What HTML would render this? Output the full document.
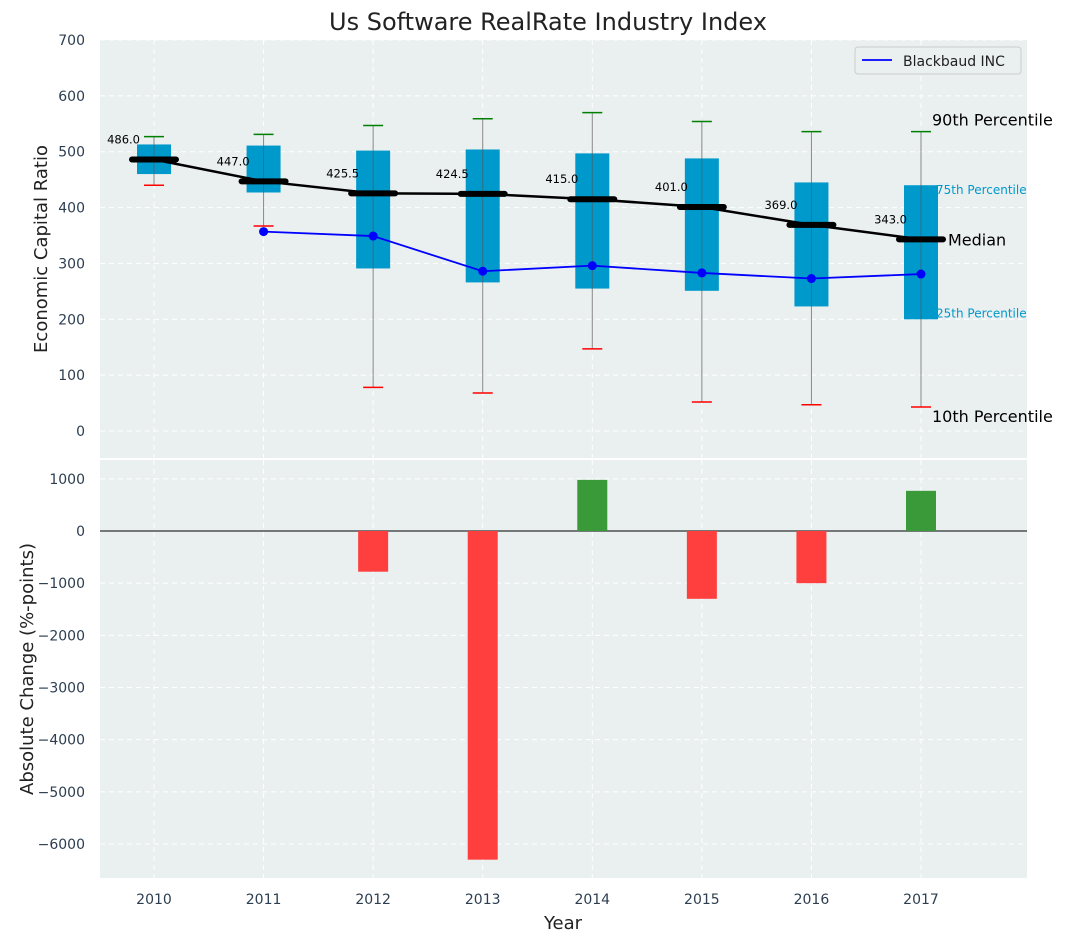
<!DOCTYPE html>
<html><head><meta charset="utf-8"><style>
body{margin:0;background:#fff;}
text{font-family:"DejaVu Sans","Liberation Sans",sans-serif;}
</style></head><body>
<svg id="c" width="1067" height="942" xmlns="http://www.w3.org/2000/svg">
<rect x="100" y="40" width="927" height="418" fill="#eaeff0"/>
<rect x="100" y="460" width="927" height="418" fill="#eaeff0"/>
<text x="548" y="30" font-size="24" text-anchor="middle" fill="#222">Us Software RealRate Industry Index</text>
<g id="g"></g>
</svg>
<script>
const years=[2010,2011,2012,2013,2014,2015,2016,2017];
const p10=[440,367,78,68,147,52,47,43];
const p25=[460,427,291,266,255,251,223,200];
const median=[486,447,425.5,424.5,415,401,369,343];
const p75=[513,511,502,504,497,488,445,440];
const p90=[527,531,547,559,570,554,536,536];
const company=[null,357,349,286,296,283,273,281];
const change=[null,null,-780,-6300,980,-1300,-1000,770];
const topTicks=[0,100,200,300,400,500,600,700];
const botTicks=[1000,0,-1000,-2000,-3000,-4000,-5000,-6000];

const NS="http://www.w3.org/2000/svg";
const g=document.getElementById('g');
function el(t,a,txt){const e=document.createElementNS(NS,t);for(const k in a)e.setAttribute(k,a[k]);if(txt!==undefined)e.textContent=txt;g.appendChild(e);return e;}
const X=i=>154+i*(921-154)/7;
const Y=v=>431-v*(431-40)/700;
const Y2=v=>531-v*0.05217;
const fmt=v=>v<0?'\u2212'+Math.abs(v):''+v;

topTicks.forEach(t=>{let e=el('line',{x1:100,x2:1027,y1:Y(t),y2:Y(t),stroke:'#fff','stroke-dasharray':'5,4'});
e=el('text',{x:85,y:Y(t)+5,'font-size':14,'text-anchor':'end',fill:'#2c3e50'},fmt(t));});
botTicks.forEach(t=>{let e=el('line',{x1:100,x2:1027,y1:Y2(t),y2:Y2(t),stroke:'#fff','stroke-dasharray':'5,4'});
e=el('text',{x:85,y:Y2(t)+5,'font-size':14,'text-anchor':'end',fill:'#2c3e50'},fmt(t));});
years.forEach((y,i)=>{let e=el('line',{x1:X(i),x2:X(i),y1:40,y2:458,stroke:'#fff','stroke-dasharray':'5,4'});
e=el('line',{x1:X(i),x2:X(i),y1:460,y2:878,stroke:'#fff','stroke-dasharray':'5,4'});
e=el('text',{x:X(i),y:904,'font-size':14,'text-anchor':'middle',fill:'#2c3e50'},y);});

years.forEach((y,i)=>{const x=X(i);
let e=el('line',{x1:x,x2:x,y1:Y(p10[i]),y2:Y(p90[i]),stroke:'#888','stroke-width':1});
e=el('rect',{x:x-17,y:Y(p75[i]),width:34,height:Y(p25[i])-Y(p75[i]),fill:'#0099cc'});
e=el('line',{x1:x,x2:x,y1:Y(p25[i]),y2:Y(p75[i]),stroke:'#555','stroke-width':1,opacity:0.6});
e=el('line',{x1:x-10,x2:x+10,y1:Y(p90[i]),y2:Y(p90[i]),stroke:'green','stroke-width':1.5});
e=el('line',{x1:x-10,x2:x+10,y1:Y(p10[i]),y2:Y(p10[i]),stroke:'red','stroke-width':1.5});
});
let d=median.map((v,i)=>(i?'L':'M')+X(i)+','+Y(v)).join('');
let e=el('path',{d:d,stroke:'#000','stroke-width':2.5,fill:'none'});
years.forEach((y,i)=>{const x=X(i);
let e=el('line',{x1:x-22,x2:x+22,y1:Y(median[i]),y2:Y(median[i]),stroke:'#000','stroke-width':6,'stroke-linecap':'round'});
e=el('text',{x:x-14,y:Y(median[i])-16,'font-size':11.5,'text-anchor':'end',fill:'#000'},median[i].toFixed(1));});
let pts=company.map((v,i)=>v==null?null:[X(i),Y(v)]).filter(p=>p);
e=el('path',{d:pts.map((p,i)=>(i?'L':'M')+p[0]+','+p[1]).join(''),stroke:'blue','stroke-width':1.8,fill:'none'});
pts.forEach(p=>{let e=el('circle',{cx:p[0],cy:p[1],r:4.5,fill:'blue'});});
const L=7, xa=X(L);
[[p90[L],'90th Percentile',16,'#000',11,-6],[p75[L],'75th Percentile',12,'#0099cc',15,9],[median[L],'Median',16,'#000',27,6],[p25[L],'25th Percentile',12,'#0099cc',15,-2],[p10[L],'10th Percentile',16,'#000',11,15]].forEach(a=>{
let e=el('text',{x:xa+a[4],y:Y(a[0])+a[5],'font-size':a[2],fill:a[3]},a[1]);});
e=el('rect',{x:855,y:47,width:166,height:27,fill:'#eaeff0',stroke:'#ccc',rx:3});
e=el('line',{x1:862,x2:892,y1:60,y2:60,stroke:'blue','stroke-width':1.8});
e=el('text',{x:903,y:66,'font-size':14,fill:'#222'},'Blackbaud INC');
e=el('line',{x1:100,x2:1027,y1:Y2(0),y2:Y2(0),stroke:'#000','stroke-width':1});
change.forEach((v,i)=>{if(v==null)return;const y0=Y2(0),y1=Y2(v);
let e=el('rect',{x:X(i)-15,y:Math.min(y0,y1),width:30,height:Math.abs(y1-y0),fill:v<0?'#ff3e3e':'#3a9a3a'});});
e=el('text',{x:563,y:929,'font-size':18,'text-anchor':'middle',fill:'#222'},'Year');
e=el('text',{x:0,y:0,'font-size':18,'text-anchor':'middle',fill:'#222',transform:'translate(47,249) rotate(-90)'},'Economic Capital Ratio');
e=el('text',{x:0,y:0,'font-size':18,'text-anchor':'middle',fill:'#222',transform:'translate(33,669) rotate(-90)'},'Absolute Change (%-points)');
</script>
</body></html>
